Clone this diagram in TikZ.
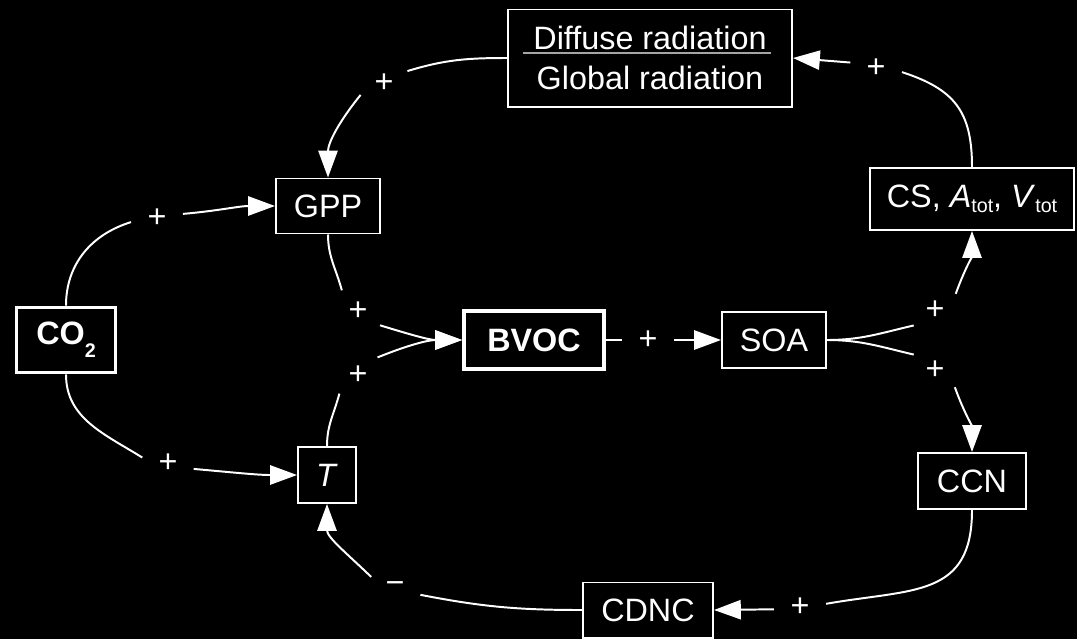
\documentclass[tikz,border=0pt]{standalone}
\usepackage{fontspec}
\setmainfont{Liberation Sans}
\usetikzlibrary{arrows.meta}
\definecolor{rulegray}{RGB}{165,165,165}
\newcommand{\lowsub}[2][0.15em]{\raisebox{-#1}{\fontsize{14}{14}\selectfont #2}}
\tikzset{
  box/.style={rectangle,draw=white,fill=black,text=white,line width=1.4pt,
    inner sep=0pt,align=center,font=\fontsize{23}{28}\selectfont},
  keybox/.style={box,line width=2.8pt,font=\fontsize{23}{28}\selectfont\bfseries},
  sign/.style={circle,inner sep=0pt,minimum size=1.3cm,text=white,
    font=\fontsize{23}{28}\selectfont},
  link/.style={white,line width=1.4pt},
  arr/.style={link,-{Triangle[length=0.67cm,width=0.48cm]}}
}
\begin{document}
\begin{tikzpicture}[x=0.025cm,y=0.025cm]
 \useasboundingbox (0,0) rectangle (1077,-639);
 \fill[black] (0,0) rectangle (1077,-639);
 % boxes
 \node[keybox,minimum width=2.475cm,minimum height=1.625cm] (co2) at (66,-340) {CO\lowsub[0.4em]{2}};
 \node[box,minimum width=2.6cm,minimum height=1.375cm] (gpp) at (328,-206) {GPP};
 \node[box,minimum width=1.45cm,minimum height=1.4cm] (t) at (327,-475) {\textit{T}};
 \node[keybox,minimum width=3.5cm,minimum height=1.45cm] (bvoc) at (534,-340) {BVOC};
 \node[box,minimum width=2.6cm,minimum height=1.4cm] (soa) at (774,-340) {SOA};
 \node[box,minimum width=5.1cm,minimum height=1.55cm] (cs) at (972,-199)
   {CS, \textit{A}\lowsub{tot}, \textit{V}\lowsub{tot}};
 \node[box,minimum width=7.1cm,minimum height=2.425cm] (diff) at (650,-58)
   {Diffuse radiation\\Global radiation};
 \draw[rulegray,line width=1.4pt] ([xshift=-3.175cm,yshift=0.125cm]diff.center)
   -- ([xshift=3.025cm,yshift=0.125cm]diff.center);
 \node[box,minimum width=2.7cm,minimum height=1.4cm] (ccn) at (972,-481) {CCN};
 \node[box,minimum width=3.25cm,minimum height=1.375cm] (cdnc) at (648,-610) {CDNC};
 % signs
 \node[sign] (s1) at (157,-218) {+};
 \node[sign] (s2) at (168,-463) {+};
 \node[sign] (s3) at (384,-83) {+};
 \node[sign] (s4) at (876,-68) {+};
 \node[sign] (s5) at (648,-340) {+};
 \node[sign] (s6) at (358,-311) {+};
 \node[sign] (s7) at (358,-375) {+};
 \node[sign] (s8) at (935,-310) {+};
 \node[sign] (s9) at (935,-370) {+};
 \node[sign] (s10) at (800,-607) {+};
 \node[sign] (s11) at (395,-588) {−};
 % CO2 drives GPP and T
 \draw[link] (co2.north) to[out=90,in=197] (s1.189);
 \draw[arr] (s1.9) to[out=5,in=180] (gpp.west);
 \draw[link] (co2.south) to[out=-90,in=148] (s2.168);
 \draw[arr] (s2.-13) to[out=-5,in=180] (t.west);
 % radiation loop
 \draw[link] (cs.north) to[out=90,in=-18,looseness=1.2] (s4.-9);
 \draw[arr] (s4.168) -- (diff.east);
 \draw[link] (diff.west) to[out=180,in=17] (s3.27);
 \draw[arr] (s3.207) to[out=231,in=90] (gpp.north);
 % emissions
 \draw[link] (gpp.south) to[out=-90,in=105] (s6.128);
 \draw[arr] (s6.-33) to[out=-17,in=180] (bvoc.west);
 \draw[link] (t.north) to[out=90,in=255] (s7.225);
 \draw[arr] (s7.42) to[out=22,in=180] (bvoc.west);
 \draw[link] (bvoc.east) -- (s5);
 \draw[arr] (s5) -- (soa.west);
 \draw[link] (soa.east) to[out=0,in=193] (s8.216);
 \draw[arr] (s8.38) to[out=70,in=-90] (cs.south);
 \draw[link] (soa.east) to[out=0,in=167] (s9.144);
 \draw[arr] (s9.-41) to[out=-70,in=90] (ccn.north);
 % cloud loop
 \draw[link] (ccn.south) to[out=-90,in=10,looseness=1.3] (s10.7);
 \draw[arr] (s10.185) -- (cdnc.east);
 \draw[link] (cdnc.west) to[out=180,in=-11] (s11.-15);
 \draw[arr] (s11.155) to[out=136,in=-90] (t.south);
\end{tikzpicture}
\end{document}
